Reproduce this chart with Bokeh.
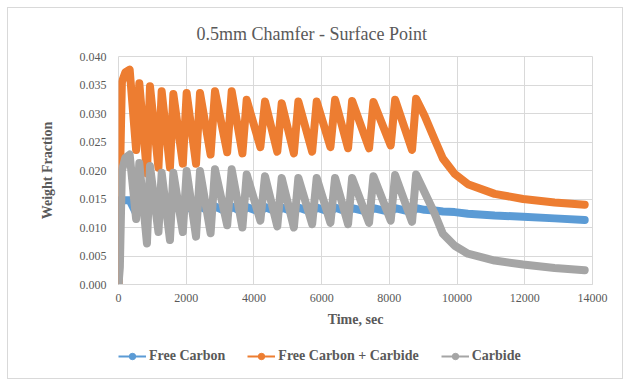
from bokeh.plotting import figure
from bokeh.layouts import column
from bokeh.models import FixedTicker, NumeralTickFormatter, Legend, LegendItem, ColumnDataSource, Range1d
from bokeh.embed import file_html
from bokeh.resources import INLINE

# ---- data ----
series_names = ["Free Carbon", "Free Carbon + Carbide", "Carbide"]
series_colors = ["#5B9BD5", "#ED7D31", "#A5A5A5"]

x_ticks = [0, 2000, 4000, 6000, 8000, 10000, 12000, 14000]
y_ticks = [0.000, 0.005, 0.010, 0.015, 0.020, 0.025, 0.030, 0.035, 0.040]

init_t = [0, 40, 100, 200]
peak_t = [330, 615, 930, 1275, 1620, 2013, 2407, 2850, 3343, 3786, 4327, 4820,
          5312, 5854, 6396, 6900, 7530, 8170, 8790]
trough_t = [520, 840, 1180, 1520, 1900, 2290, 2720, 3210, 3660, 4190, 4690, 5180,
            5720, 6260, 6780, 7400, 8040, 8670]
tail_t = [9040, 9340, 9580, 9930, 10320, 11110, 11950, 12880, 13770]

# Free Carbon
fc_init = [0.0, 0.0148, 0.0148, 0.0148]
fc_peak = [0.0148, 0.0141, 0.0140, 0.0140, 0.0139, 0.0138, 0.0138, 0.0137, 0.0137, 0.0136,
           0.0136, 0.0135, 0.0135, 0.0135, 0.0135, 0.0134, 0.0134, 0.0134, 0.0134]
fc_trough = [0.0125, 0.0124, 0.0125, 0.0125, 0.0126, 0.0126, 0.0126, 0.0127, 0.0127,
             0.0127, 0.0127, 0.0127, 0.0127, 0.0127, 0.0127, 0.0127, 0.0127, 0.0127]
fc_tail = [0.0131, 0.0130, 0.0128, 0.0127, 0.0124, 0.0121, 0.0119, 0.0116, 0.0113]

# Free Carbon + Carbide
tot_init = [0.0, 0.0180, 0.0355, 0.0372]
tot_peak = [0.0377, 0.0353, 0.0348, 0.0339, 0.0334, 0.0336, 0.0336, 0.0339, 0.0339, 0.0324,
            0.0321, 0.0318, 0.0321, 0.0321, 0.0324, 0.0322, 0.0320, 0.0324, 0.0326]
tot_trough = [0.0236, 0.0195, 0.0205, 0.0205, 0.0212, 0.0212, 0.0228, 0.0232, 0.0230,
              0.0241, 0.0233, 0.0230, 0.0233, 0.0241, 0.0239, 0.0239, 0.0244, 0.0236]
tot_tail = [0.0296, 0.0254, 0.0221, 0.0194, 0.0176, 0.0159, 0.0150, 0.0144, 0.0140]

# Carbide
cb_init = [0.0, 0.0030, 0.0200, 0.0222]
cb_peak = [0.0228, 0.0213, 0.0208, 0.0196, 0.0196, 0.0199, 0.0199, 0.0202, 0.0202, 0.0193,
           0.0190, 0.0187, 0.0187, 0.0187, 0.0187, 0.0187, 0.0190, 0.0192, 0.0193]
cb_trough = [0.0115, 0.0072, 0.0092, 0.0078, 0.0092, 0.0084, 0.0090, 0.0104, 0.0100,
             0.0112, 0.0102, 0.0100, 0.0106, 0.0108, 0.0106, 0.0108, 0.0112, 0.0110]
cb_tail = [0.0162, 0.0124, 0.0089, 0.0068, 0.0054, 0.0042, 0.0035, 0.0029, 0.0025]


def assemble(init_v, peak_v, trough_v, tail_v):
    t = list(init_t) + [peak_t[0]]
    v = list(init_v) + [peak_v[0]]
    for i in range(len(trough_t)):
        t += [trough_t[i], peak_t[i + 1]]
        v += [trough_v[i], peak_v[i + 1]]
    t += tail_t
    v += tail_v
    return t, v


series = [
    assemble(fc_init, fc_peak, fc_trough, fc_tail),
    assemble(tot_init, tot_peak, tot_trough, tot_tail),
    assemble(cb_init, cb_peak, cb_trough, cb_tail),
]

FONT = "Liberation Serif"
TXT = "#595959"
GRID = "#d9d9d9"

p = figure(width=614, height=322, output_backend="svg", toolbar_location=None,
           x_range=Range1d(0, 14000), y_range=Range1d(0, 0.040),
           min_border_left=110, min_border_right=30, min_border_top=47, min_border_bottom=46)

p.title.text = "0.5mm Chamfer - Surface Point"
p.title.text_font = FONT
p.title.text_font_size = "18px"
p.title.text_font_style = "normal"
p.title.text_color = TXT
p.title.align = "left"
p.title.offset = 78
p.title.standoff = 26

p.outline_line_color = GRID
p.xgrid.grid_line_color = GRID
p.ygrid.grid_line_color = GRID

p.xaxis.ticker = FixedTicker(ticks=x_ticks)
p.yaxis.ticker = FixedTicker(ticks=y_ticks)
p.yaxis.formatter = NumeralTickFormatter(format="0.000")
p.xaxis.formatter = NumeralTickFormatter(format="0")

for ax in (p.xaxis[0], p.yaxis[0]):
    ax.major_tick_line_color = None
    ax.minor_tick_line_color = None
    ax.major_label_text_font = FONT
    ax.major_label_text_font_size = "12px"
    ax.major_label_text_color = TXT
    ax.axis_label_text_font = FONT
    ax.axis_label_text_font_size = "14px"
    ax.axis_label_text_font_style = "bold"
    ax.axis_label_text_color = TXT

p.xaxis.axis_line_color = GRID
p.yaxis.axis_line_color = None
p.xaxis.axis_label = "Time, sec"
p.yaxis.axis_label = "Weight Fraction"
p.xaxis.major_label_standoff = 3
p.yaxis.major_label_standoff = 6
p.xaxis.axis_label_standoff = 7
p.yaxis.axis_label_standoff = 22

sources = []
for (t, v), col in zip(series, series_colors):
    src = ColumnDataSource(dict(t=t, v=v))
    sources.append(src)
    p.line("t", "v", source=src, line_color=col, line_width=8,
           line_join="round", line_cap="round")

# legend strip below the chart (its view range lies outside the data, so only the legend shows)
lf = figure(width=614, height=48, output_backend="svg", toolbar_location=None,
            x_range=Range1d(-2, -1), y_range=Range1d(-2, -1),
            x_axis_location=None, y_axis_location=None,
            min_border_left=0, min_border_right=0, min_border_top=0, min_border_bottom=0)
lf.grid.visible = False
lf.outline_line_color = None

items = []
for src, name, col in zip(sources, series_names, series_colors):
    l_r = lf.line("t", "v", source=src, line_color=col, line_width=2)
    s_r = lf.scatter("t", "v", source=src, marker="circle", size=7,
                     fill_color=col, line_color=col)
    items.append(LegendItem(label=name, renderers=[l_r, s_r]))

legend = Legend(items=items, orientation="horizontal", location=(0, 14),
                label_text_font=FONT, label_text_font_size="14px",
                label_text_font_style="bold", label_text_color=TXT,
                glyph_width=28, glyph_height=16, spacing=22, padding=4,
                margin=0, border_line_color=None, background_fill_alpha=0,
                label_standoff=3)
lf.add_layout(legend, "center")

layout = column(p, lf, spacing=0,
                styles={"margin-left": "7px", "margin-top": "7px",
                        "border": "1px solid #d9d9d9"})

open("out.html", "w").write(file_html(layout, INLINE))
